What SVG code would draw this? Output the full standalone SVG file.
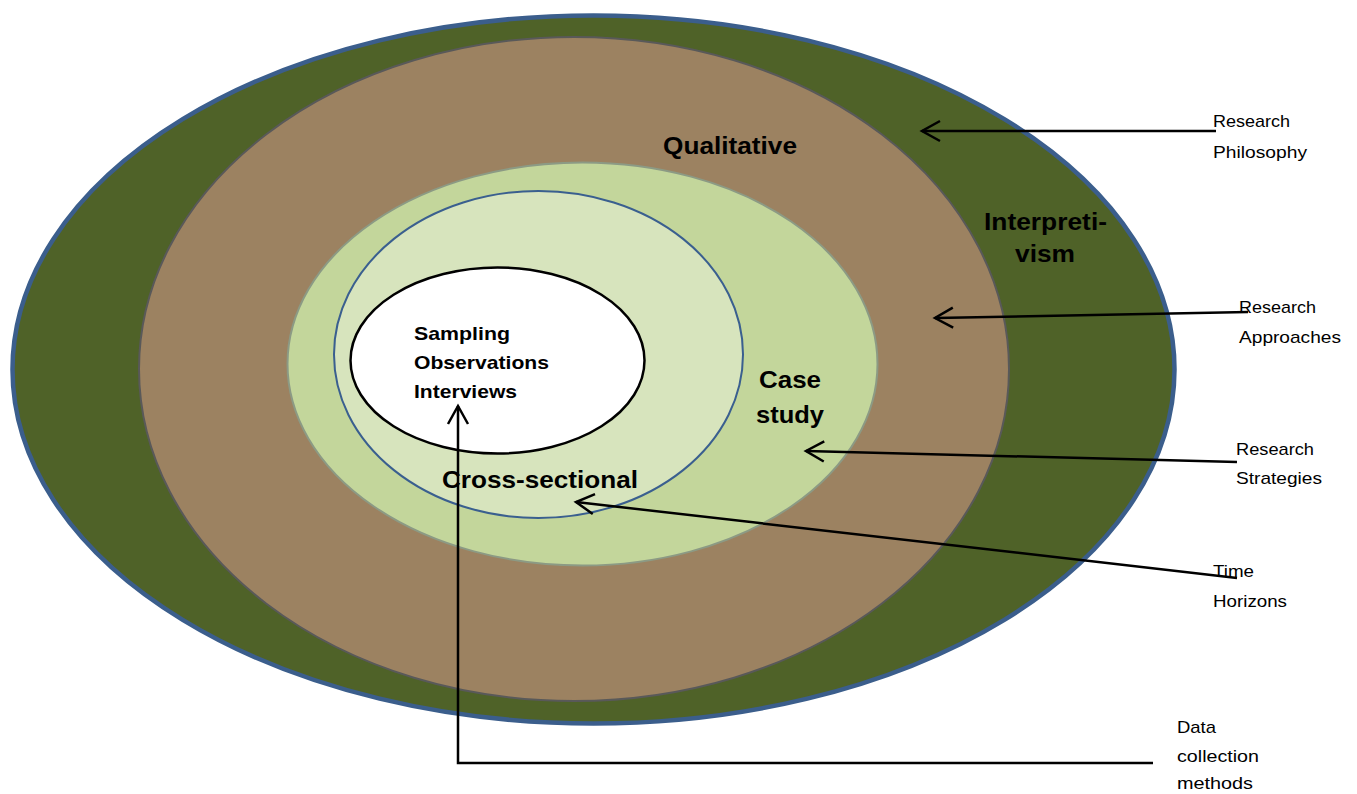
<svg xmlns="http://www.w3.org/2000/svg" width="1357" height="794" viewBox="0 0 1357 794">
<style>
.lbl{font-family:"Liberation Sans",Arial,sans-serif;font-weight:bold;fill:#000;}
.side{font-family:"Liberation Sans",Arial,sans-serif;font-size:17px;fill:#000;}
.conn{fill:none;stroke:#000;stroke-width:2.5;}
</style>
<defs>
<marker id="arr" markerUnits="userSpaceOnUse" markerWidth="30" markerHeight="30" viewBox="-22 -15 30 30" refX="0" refY="0" orient="auto" overflow="visible">
<path d="M-18,-10 L0,0 L-18,10" fill="none" stroke="#000" stroke-width="2.5"/>
</marker>
</defs>
<rect width="1357" height="794" fill="#fff"/>
<g id="philosophy">
<ellipse cx="593.5" cy="369.5" rx="581" ry="354" fill="#4F6228" stroke="#3B5E8C" stroke-width="4.5"/>
<text class="lbl" font-size="24" x="984" y="230" textLength="123" lengthAdjust="spacingAndGlyphs">Interpreti-</text>
<text class="lbl" font-size="24" x="1015" y="262" textLength="60" lengthAdjust="spacingAndGlyphs">vism</text>
</g>
<g id="approaches">
<ellipse cx="574" cy="369" rx="435" ry="332" fill="#9C8261" stroke="#595959" stroke-width="2"/>
<text class="lbl" font-size="24" x="663" y="154" textLength="134" lengthAdjust="spacingAndGlyphs">Qualitative</text>
</g>
<g id="strategies">
<ellipse cx="582.5" cy="364" rx="295" ry="201.5" fill="#C3D69B" stroke="#8C9A84" stroke-width="2"/>
<text class="lbl" font-size="24" x="759" y="388" textLength="62" lengthAdjust="spacingAndGlyphs">Case</text>
<text class="lbl" font-size="24" x="756" y="423" textLength="68" lengthAdjust="spacingAndGlyphs">study</text>
</g>
<g id="time-horizons">
<ellipse cx="538.5" cy="354.5" rx="204.5" ry="163.5" fill="#D7E4BD" stroke="#3A5F8F" stroke-width="2"/>
<text class="lbl" font-size="24" x="442" y="488" textLength="196" lengthAdjust="spacingAndGlyphs">Cross-sectional</text>
</g>
<g id="data-collection">
<ellipse cx="497.5" cy="360.5" rx="147" ry="93" fill="#fff" stroke="#000" stroke-width="2.5"/>
<text class="lbl" font-size="19" x="414" y="340" textLength="96" lengthAdjust="spacingAndGlyphs">Sampling</text>
<text class="lbl" font-size="19" x="414" y="369" textLength="135" lengthAdjust="spacingAndGlyphs">Observations</text>
<text class="lbl" font-size="19" x="414" y="398" textLength="103" lengthAdjust="spacingAndGlyphs">Interviews</text>
</g>
<g id="connectors">
<line class="conn" x1="1216" y1="131" x2="922" y2="131" marker-end="url(#arr)"/>
<line class="conn" x1="1248" y1="312" x2="935" y2="318" marker-end="url(#arr)"/>
<line class="conn" x1="1237" y1="462" x2="806" y2="451" marker-end="url(#arr)"/>
<line class="conn" x1="1237" y1="578" x2="576" y2="502" marker-end="url(#arr)"/>
<polyline class="conn" points="1153,763 458,763 458,406" marker-end="url(#arr)"/>
</g>
<g id="labels">
<text class="side" x="1213" y="127" textLength="77" lengthAdjust="spacingAndGlyphs">Research</text>
<text class="side" x="1213" y="158" textLength="94" lengthAdjust="spacingAndGlyphs">Philosophy</text>
<text class="side" x="1239" y="313" textLength="77" lengthAdjust="spacingAndGlyphs">Research</text>
<text class="side" x="1239" y="343" textLength="102" lengthAdjust="spacingAndGlyphs">Approaches</text>
<text class="side" x="1236" y="455" textLength="78" lengthAdjust="spacingAndGlyphs">Research</text>
<text class="side" x="1236" y="484" textLength="86" lengthAdjust="spacingAndGlyphs">Strategies</text>
<text class="side" x="1213" y="577" textLength="41" lengthAdjust="spacingAndGlyphs">Time</text>
<text class="side" x="1213" y="607" textLength="74" lengthAdjust="spacingAndGlyphs">Horizons</text>
<text class="side" x="1177" y="733" textLength="39" lengthAdjust="spacingAndGlyphs">Data</text>
<text class="side" x="1177" y="762" textLength="82" lengthAdjust="spacingAndGlyphs">collection</text>
<text class="side" x="1177" y="789" textLength="76" lengthAdjust="spacingAndGlyphs">methods</text>
</g>
</svg>
